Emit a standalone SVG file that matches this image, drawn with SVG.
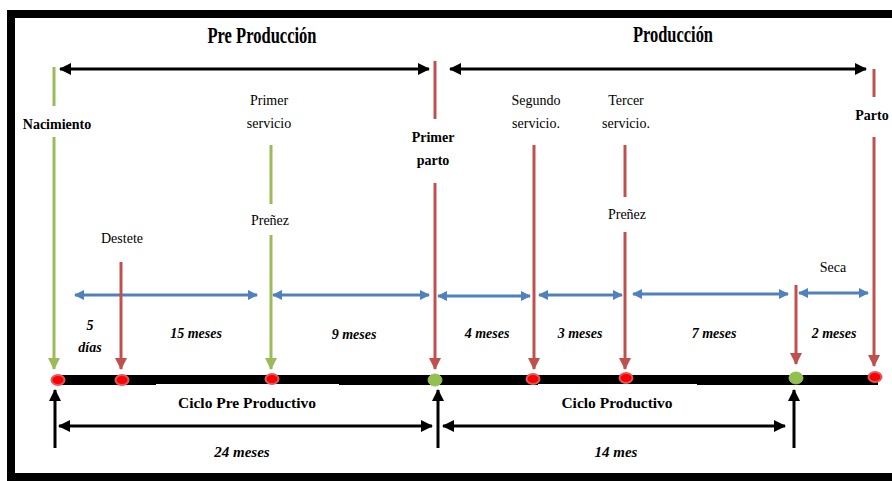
<svg xmlns="http://www.w3.org/2000/svg" width="892" height="481" viewBox="0 0 892 481">
<defs>
<style>
.t{font-family:"Liberation Serif","Times New Roman","DejaVu Serif",serif;fill:#000;text-anchor:middle}
.title{font-weight:bold;font-size:24px}
.lbl{font-size:14px}
.b{font-weight:bold}
.dur{font-size:14px;font-weight:bold;font-style:italic}
.cyc{font-size:15.5px;font-weight:bold}
.tot{font-size:15px;font-weight:bold;font-style:italic}
.g{stroke:#9BBB59;stroke-width:3;fill:none}
.r{stroke:#C0504D;stroke-width:3;fill:none}
.bl{stroke:#4F81BD;stroke-width:3;fill:none}
.k{stroke:#000;stroke-width:3;fill:none}
.dr{fill:#FF0000;stroke:#E05A5A;stroke-width:2}
.dg{fill:#92C14F;stroke:#9BBB59;stroke-width:1}
</style>
<marker id="ag" markerUnits="userSpaceOnUse" markerWidth="12" markerHeight="12" refX="11" refY="6" orient="auto"><path d="M0,0 L12,6 L0,12 z" fill="#9BBB59"/></marker>
<marker id="ar" markerUnits="userSpaceOnUse" markerWidth="12" markerHeight="12" refX="11" refY="6" orient="auto"><path d="M0,0 L12,6 L0,12 z" fill="#C0504D"/></marker>
<marker id="ab" markerUnits="userSpaceOnUse" markerWidth="10" markerHeight="10" refX="9" refY="5" orient="auto-start-reverse"><path d="M0,0 L10,5 L0,10 z" fill="#4F81BD"/></marker>
<marker id="ak" markerUnits="userSpaceOnUse" markerWidth="12" markerHeight="12" refX="11" refY="6" orient="auto-start-reverse"><path d="M0,0 L12,6 L0,12 z" fill="#000"/></marker>
</defs>
<rect x="0" y="0" width="892" height="481" fill="#fff"/>
<rect id="frame" x="11" y="14" width="900" height="463" fill="none" stroke="#000" stroke-width="8"/>

<g id="title-pre"><text class="t title" x="262" y="43" textLength="109" lengthAdjust="spacingAndGlyphs">Pre Producción</text></g>
<g id="title-prod"><text class="t title" x="673" y="42" textLength="80" lengthAdjust="spacingAndGlyphs">Producción</text></g>

<rect id="bar" x="55" y="375" width="823" height="10" fill="#000"/>
<rect x="156" y="384" width="183" height="6" fill="#fff"/>
<rect x="538" y="384" width="159" height="6" fill="#fff"/>

<g id="connectors">
<line class="k" x1="60" y1="69" x2="429" y2="69" marker-start="url(#ak)" marker-end="url(#ak)"/>
<line class="k" x1="450" y1="69" x2="866" y2="69" marker-start="url(#ak)" marker-end="url(#ak)"/>
<line class="bl" x1="75" y1="295" x2="257" y2="295" marker-start="url(#ab)" marker-end="url(#ab)"/>
<line class="bl" x1="273" y1="295" x2="429" y2="295" marker-start="url(#ab)" marker-end="url(#ab)"/>
<line class="bl" x1="438" y1="296" x2="530" y2="296" marker-start="url(#ab)" marker-end="url(#ab)"/>
<line class="bl" x1="539" y1="295" x2="622" y2="295" marker-start="url(#ab)" marker-end="url(#ab)"/>
<line class="bl" x1="633" y1="294" x2="788" y2="294" marker-start="url(#ab)" marker-end="url(#ab)"/>
<line class="bl" x1="799" y1="293" x2="868" y2="293" marker-start="url(#ab)" marker-end="url(#ab)"/>
<line class="k" x1="55" y1="448" x2="55" y2="390" marker-end="url(#ak)"/>
<line class="k" x1="438" y1="448" x2="438" y2="390" marker-end="url(#ak)"/>
<line class="k" x1="794" y1="448" x2="794" y2="390" marker-end="url(#ak)"/>
<line class="k" x1="59" y1="426" x2="432" y2="426" marker-start="url(#ak)" marker-end="url(#ak)"/>
<line class="k" x1="443" y1="426" x2="785" y2="426" marker-start="url(#ak)" marker-end="url(#ak)"/>
</g>

<g id="nacimiento">
<line class="g" x1="54" y1="67" x2="54" y2="106"/>
<line class="g" x1="54" y1="137" x2="54" y2="369" marker-end="url(#ag)"/>
<text class="t lbl b" x="57" y="129">Nacimiento</text>
<ellipse class="dr" cx="58" cy="380" rx="6.5" ry="5"/>
</g>
<g id="destete">
<text class="t lbl" x="122" y="243">Destete</text>
<line class="r" x1="121" y1="262" x2="121" y2="369" marker-end="url(#ar)"/>
<ellipse class="dr" cx="122" cy="380" rx="6.5" ry="5"/>
</g>
<g id="primer-servicio">
<text class="t lbl" x="269" y="105">Primer</text>
<text class="t lbl" x="269" y="128">servicio</text>
<line class="g" x1="271" y1="145" x2="271" y2="204"/>
<text class="t lbl" x="270" y="225">Preñez</text>
<line class="g" x1="271" y1="235" x2="271" y2="369" marker-end="url(#ag)"/>
<ellipse class="dr" cx="272" cy="379" rx="6.5" ry="5"/>
</g>
<g id="primer-parto">
<line class="r" x1="435" y1="61" x2="435" y2="119"/>
<text class="t lbl b" x="433" y="142">Primer</text>
<text class="t lbl b" x="433" y="165">parto</text>
<line class="r" x1="435" y1="183" x2="435" y2="369" marker-end="url(#ar)"/>
<ellipse class="dg" cx="435" cy="380" rx="7" ry="6"/>
</g>
<g id="segundo-servicio">
<text class="t lbl" x="536" y="105">Segundo</text>
<text class="t lbl" x="536" y="128">servicio.</text>
<line class="r" x1="534" y1="145" x2="534" y2="369" marker-end="url(#ar)"/>
<ellipse class="dr" cx="533" cy="379" rx="6.5" ry="5"/>
</g>
<g id="tercer-servicio">
<text class="t lbl" x="626" y="105">Tercer</text>
<text class="t lbl" x="626" y="128">servicio.</text>
<line class="r" x1="625" y1="145" x2="625" y2="197"/>
<text class="t lbl" x="627" y="219">Preñez</text>
<line class="r" x1="625" y1="232" x2="625" y2="369" marker-end="url(#ar)"/>
<ellipse class="dr" cx="626" cy="378" rx="6.5" ry="5"/>
</g>
<g id="seca">
<text class="t lbl" x="833" y="272">Seca</text>
<line class="r" x1="796" y1="285" x2="796" y2="364" marker-end="url(#ar)"/>
<ellipse class="dg" cx="796" cy="378" rx="7" ry="6"/>
</g>
<g id="parto">
<line class="r" x1="874" y1="69" x2="874" y2="97"/>
<text class="t lbl b" x="872" y="120">Parto</text>
<line class="r" x1="874" y1="137" x2="874" y2="366" marker-end="url(#ar)"/>
<ellipse class="dr" cx="875" cy="377" rx="6.5" ry="5"/>
</g>

<g id="durations">
<text class="t dur" x="90" y="330">5</text>
<text class="t dur" x="90" y="352">días</text>
<text class="t dur" x="196" y="338">15 meses</text>
<text class="t dur" x="354" y="339">9 meses</text>
<text class="t dur" x="487" y="338">4 meses</text>
<text class="t dur" x="580" y="338">3 meses</text>
<text class="t dur" x="714" y="338">7 meses</text>
<text class="t dur" x="834" y="338">2 meses</text>
</g>

<g id="ciclo-pre">
<text class="t cyc" x="247" y="408">Ciclo Pre Productivo</text>
<text class="t tot" x="242" y="457">24 meses</text>
</g>
<g id="ciclo-prod">
<text class="t cyc" x="617" y="408">Ciclo Productivo</text>
<text class="t tot" x="616" y="457">14 mes</text>
</g>
</svg>
